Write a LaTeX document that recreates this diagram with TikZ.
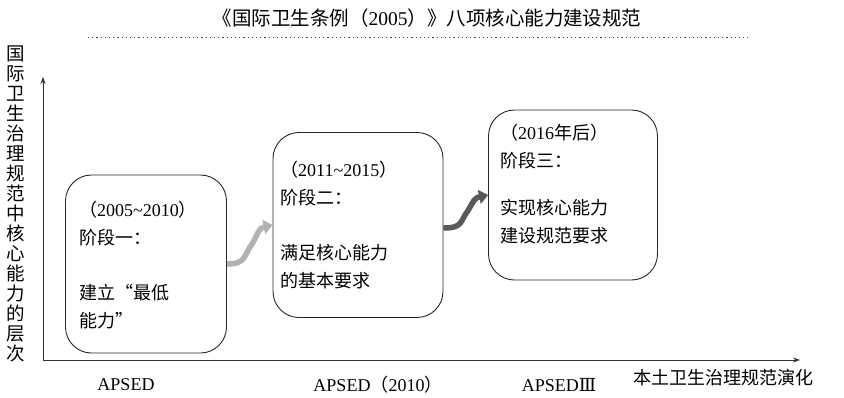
\documentclass[tikz,border=0pt]{standalone}
\usepackage{fontspec}
\setmainfont{Liberation Serif}
\newfontfamily\cjk{Noto Sans CJK SC}
\newfontfamily\djs{DejaVu Serif}
\usetikzlibrary{arrows.meta,calc}
\tikzset{
  stagebox/.style={draw=black!85, line width=0.9pt, rounded corners=26pt},
  boxtext/.style={anchor=north west, align=left, inner sep=0pt, font=\fontsize{18}{28}\selectfont},
  axis/.style={draw=black!80, line width=0.8pt, -{Stealth[length=7pt,width=5pt]}},
  bigarrow/.style={line width=5.5pt, -{Triangle[length=9pt,width=14pt]}},
  lbl/.style={inner sep=0pt, font=\fontsize{18}{20}\selectfont}
}
\begin{document}
\begin{tikzpicture}[x=1pt,y=-1pt]
\useasboundingbox[fill=white] (0,0) rectangle (844,397);
% title
\node[lbl, font=\fontsize{19.5}{21}\selectfont] (title) at (427,18) {{\cjk 《国际卫生条例（}2005{\cjk ）》八项核心能力建设规范}};
\draw[black!70, line width=0.8pt, dash pattern=on 1.2pt off 3pt] (88,37) -- (748,37);
% axes
\coordinate (o) at (43,360);
\coordinate (ytop) at (43,77);
\coordinate (xend) at (800,360);
\draw[axis] (o) -- (ytop);
\draw[axis] (o) -- (xend);
% vertical label
\node[lbl, align=center, font=\fontsize{18.5}{20}\selectfont\cjk] (ylab) at (16,204) {国\\际\\卫\\生\\治\\理\\规\\范\\中\\核\\心\\能\\力\\的\\层\\次};
% x label
\node[lbl, anchor=west] (xlab) at (633,378) {\cjk 本土卫生治理规范演化};
% bottom labels
\node[lbl] (l1) at (126,385) {APSED};
\node[lbl] (l2) at (378,385) {APSED{\cjk （}2010{\cjk ）}};
\node[lbl] (l3) at (559,385) {APSED{\djs Ⅲ}};
% boxes
\node[stagebox, minimum width=161pt, minimum height=178pt] (b1) at (146,264) {};
\node[stagebox, minimum width=170pt, minimum height=185pt] (b2) at (358,225) {};
\node[stagebox, minimum width=169pt, minimum height=170pt] (b3) at (573,195) {};
% box texts
\node[boxtext] (t1) at (79,201) {{\cjk （}2005\textasciitilde2010{\cjk ）}\\{\cjk 阶段一：}\\[27pt]{\cjk 建立“最低}\\{\cjk 能力”}};
\node[boxtext] (t2) at (280,161) {{\cjk （}2011\textasciitilde2015{\cjk ）}\\{\cjk 阶段二：}\\[27pt]{\cjk 满足核心能力}\\{\cjk 的基本要求}};
\node[boxtext] (t3) at (500,124) {{\cjk （}2016{\cjk 年后）}\\{\cjk 阶段三：}\\[19pt]{\cjk 实现核心能力}\\{\cjk 建设规范要求}};
% connecting arrows
\draw[bigarrow, black!30] (b1.east) .. controls +(20,0) and +(-8,10) .. ($(b1.east)!0.5!(b2.west)+(2,0)$)
  .. controls +(6,-10) and +(-14,3) .. (b2.west);
\draw[bigarrow, black!65] ($(b2.east)+(0,3)$) .. controls +(20,0) and +(-8,10) .. ($(b2.east)!0.5!(b3.west)+(2,1)$)
  .. controls +(6,-10) and +(-14,3) .. (b3.west);
\end{tikzpicture}
\end{document}
